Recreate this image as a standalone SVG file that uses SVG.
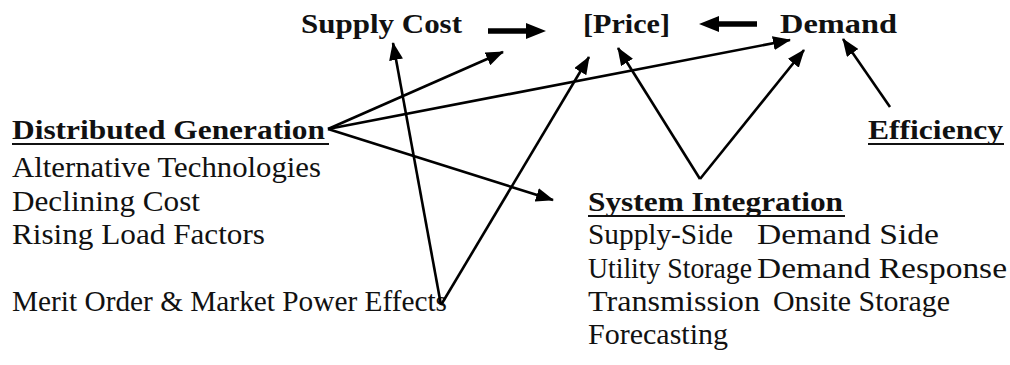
<svg xmlns="http://www.w3.org/2000/svg" width="1010" height="365" viewBox="0 0 1010 365">
<style>
text{font-family:"Liberation Serif","Times New Roman",serif;font-size:28.5px;fill:#111}
.b{font-weight:bold;font-size:27.5px}
.ul{stroke:#111;stroke-width:2}
.c{stroke:#000;stroke-width:2.6;fill:none;marker-end:url(#ah)}
.big{stroke:#000;stroke-width:5.5;fill:none}
</style>
<defs>
<marker id="ah" markerUnits="userSpaceOnUse" markerWidth="18" markerHeight="14" viewBox="0 0 18 14" refX="17" refY="7" orient="auto">
<path d="M0,0 L18,7 L0,14 Z" fill="#000"/>
</marker>
</defs>
<rect width="1010" height="365" fill="#fff"/>
<g id="supply-cost"><text class="b" x="301" y="33" textLength="161" lengthAdjust="spacingAndGlyphs">Supply Cost</text></g>
<g id="price"><text class="b" x="583" y="33" textLength="87" lengthAdjust="spacingAndGlyphs">[Price]</text></g>
<g id="demand"><text class="b" x="780" y="33" textLength="117" lengthAdjust="spacingAndGlyphs">Demand</text></g>
<g id="efficiency"><text class="b" x="868" y="139" textLength="135" lengthAdjust="spacingAndGlyphs">Efficiency</text><line class="ul" x1="868" y1="144" x2="1004" y2="144"/></g>
<g id="distributed-generation">
<text class="b" x="12" y="139" textLength="313" lengthAdjust="spacingAndGlyphs">Distributed Generation</text>
<line class="ul" x1="12" y1="144" x2="329" y2="144"/>
<text x="12" y="177" textLength="309" lengthAdjust="spacingAndGlyphs">Alternative Technologies</text>
<text x="12" y="211" textLength="188" lengthAdjust="spacingAndGlyphs">Declining Cost</text>
<text x="12" y="244" textLength="253" lengthAdjust="spacingAndGlyphs">Rising Load Factors</text>
<text x="12" y="311" textLength="435" lengthAdjust="spacingAndGlyphs">Merit Order &amp; Market Power Effects</text>
</g>
<g id="system-integration">
<text class="b" x="588" y="211" textLength="255" lengthAdjust="spacingAndGlyphs">System Integration</text>
<line class="ul" x1="588" y1="216" x2="845" y2="216"/>
<text x="588" y="244" textLength="145" lengthAdjust="spacingAndGlyphs">Supply-Side</text>
<text x="757" y="244" textLength="182" lengthAdjust="spacingAndGlyphs">Demand Side</text>
<text x="588" y="278" textLength="164" lengthAdjust="spacingAndGlyphs">Utility Storage</text>
<text x="757" y="278" textLength="250" lengthAdjust="spacingAndGlyphs">Demand Response</text>
<text x="588" y="311" textLength="172" lengthAdjust="spacingAndGlyphs">Transmission</text>
<text x="773" y="311" textLength="177" lengthAdjust="spacingAndGlyphs">Onsite Storage</text>
<text x="588" y="344" textLength="140" lengthAdjust="spacingAndGlyphs">Forecasting</text>
</g>
<g id="connectors">
<line class="big" x1="488" y1="31" x2="528" y2="31"/>
<path d="M526,23 L546,31 L526,39 Z" fill="#000"/>
<line class="big" x1="757" y1="24" x2="717" y2="24"/>
<path d="M719,16 L699,24 L719,32 Z" fill="#000"/>
<line class="c" x1="328" y1="129" x2="503" y2="52"/>
<line class="c" x1="328" y1="129" x2="790" y2="40"/>
<line class="c" x1="328" y1="129" x2="553" y2="200"/>
<line class="c" x1="441" y1="305" x2="393" y2="43"/>
<line class="c" x1="441" y1="305" x2="589" y2="57"/>
<line class="c" x1="700" y1="179" x2="618" y2="48"/>
<line class="c" x1="700" y1="179" x2="804" y2="50"/>
<line class="c" x1="890" y1="107" x2="843" y2="39"/>
</g>
</svg>
